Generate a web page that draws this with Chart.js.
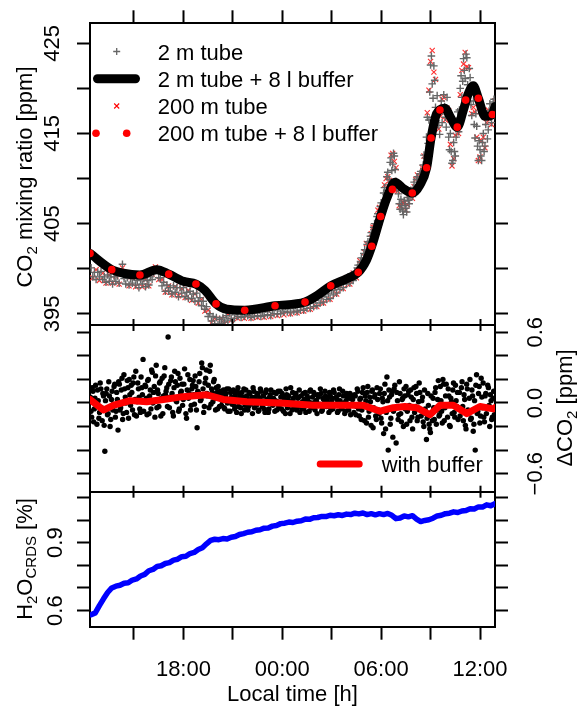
<!DOCTYPE html>
<html lang="en">
<head>
<meta charset="UTF-8">
<title>CO2 tube and buffer test</title>
<style>
  html, body { margin: 0; padding: 0; background: #fff; }
  #wrap { position: relative; width: 579px; height: 709px; }
  #wrap canvas { position: absolute; left: 0; top: 0; }
</style>
</head>
<body>
<div id="wrap">
  <canvas id="co2Chart" width="579" height="709"></canvas>
  <canvas id="diffChart" width="579" height="709"></canvas>
  <canvas id="h2oChart" width="579" height="709"></canvas>
</div>
<script src="https://cdn.jsdelivr.net/npm/chart.js"></script>
<script>
// ---- time axis (hours since midnight of day 1) ----
const xMin = 12.33, xMax = 36.91;
const xTickHours = [15, 18, 21, 24, 27, 30, 33, 36];
const xTickLabels = ['', '18:00', '', '00:00', '', '06:00', '', '12:00'];

// ---- top panel: CO2 mixing ratio [ppm] ----
const co2Ticks = [395, 400, 405, 410, 415, 420, 425];
const co2TickLabels = [395, 405, 415, 425];
const seriesNames = ['2 m tube', '2 m tube + 8 l buffer', '200 m tube', '200 m tube + 8 l buffer'];

// raw 2 m tube, one sample every 0.1 h
const tube2mStart = 12.4, tube2mStep = 0.1;
const tube2m = [
  400.1, 399.1, 399.6, 398.8, 399.6, 399.1, 399.7, 398.8, 399.1, 398.5,
  399.3, 398.6, 399.1, 398.3, 399.1, 398.6, 399.2, 398.4, 399.6, 400.5,
  398.9, 398.3, 399.0, 398.2, 398.9, 398.4, 399.1, 398.2, 398.7, 397.9,
  398.8, 398.3, 398.9, 398.0, 398.7, 398.2, 399.1, 398.8, 399.6, 399.9,
  400.0, 399.0, 399.0, 398.1, 398.5, 397.5, 398.2, 397.5, 397.9, 397.2,
  398.1, 397.4, 397.9, 396.9, 397.9, 397.3, 397.9, 396.9, 397.4, 396.7,
  397.5, 396.7, 397.2, 396.4, 397.3, 396.4, 396.8, 395.9, 396.4, 395.5,
  395.8, 394.7, 395.0, 394.2, 394.7, 393.9, 394.6, 393.8, 394.4, 393.9,
  394.6, 394.1, 394.8, 394.3, 395.1, 394.5, 395.2, 394.5, 395.2, 394.7,
  395.4, 394.6, 395.2, 394.7, 395.4, 394.8, 395.3, 394.6, 395.2, 394.7,
  395.4, 394.8, 395.4, 394.7, 395.3, 394.8, 395.5, 394.9, 395.5, 394.8,
  395.5, 395.0, 395.7, 395.0, 395.6, 395.0, 395.7, 395.2, 395.8, 395.2,
  395.8, 395.1, 395.9, 395.3, 395.9, 395.2, 396.1, 395.4, 396.0, 395.4,
  396.2, 395.6, 396.3, 395.6, 396.5, 395.8, 396.5, 395.9, 396.8, 396.2,
  396.9, 396.3, 397.2, 396.6, 397.3, 396.7, 397.6, 397.1, 397.9, 397.3,
  398.1, 397.7, 398.5, 397.9, 398.7, 398.3, 399.1, 398.4, 399.2, 398.7,
  399.7, 399.3, 400.4, 399.8, 401.2, 400.6, 402.1, 401.5, 403.0, 402.4,
  404.0, 403.3, 405.0, 404.2, 406.1, 405.3, 407.3, 406.6, 409.0, 408.2,
  410.7, 409.9, 412.3, 411.6, 412.5, 409.7, 409.5, 407.2, 407.7, 406.4,
  407.5, 406.7, 407.9, 407.2, 408.7, 408.0, 409.6, 408.6, 410.2, 409.3,
  410.8, 409.9, 412.6, 412.3, 416.8, 416.5, 422.6, 420.5, 422.5, 417.9,
  419.2, 415.9, 417.8, 416.2, 419.3, 416.8, 419.0, 414.6, 415.0, 411.7,
  414.0, 412.5, 416.4, 415.2, 420.0, 419.0, 423.3, 421.1, 423.4, 419.4,
  421.2, 417.0, 418.6, 414.5, 415.8, 412.0, 413.2, 412.0, 415.0, 413.6,
  417.0, 415.4, 418.3, 416.2, 418.5, 417.0
];
// extra 2 m tube samples in the variable morning part (between the ones above)
const tube2mLateStart = 28.45;
const tube2mLate = [
  399.2, 400.1, 399.7, 400.8, 400.2, 401.7, 401.2, 402.7, 402.0, 403.6,
  402.9, 404.6, 403.9, 405.8, 404.9, 406.9, 406.1, 408.4, 407.6, 410.2,
  409.3, 411.8, 410.9, 412.8, 411.0, 408.9, 408.3, 406.6, 407.0, 406.0,
  407.0, 406.3, 407.6, 407.9, 408.3, 409.0, 408.9, 409.9, 409.0, 410.5,
  409.6, 411.5, 410.8, 414.6, 413.9, 419.6, 423.6, 418.9, 420.9, 416.4,
  417.6, 414.9, 418.6, 417.5, 418.0, 415.7, 417.2, 413.2, 413.0, 412.0,
  413.0, 414.6, 417.4, 417.6, 421.4, 420.8, 422.0, 423.8, 420.4, 422.2,
  418.2, 419.8, 416.0, 417.2, 413.6, 414.2, 412.5, 414.0, 413.0, 416.0,
  414.4, 417.5, 416.8, 417.6, 418.8
];
// raw 200 m tube, one sample every 0.2 h
const tube200mStart = 12.5, tube200mStep = 0.2;
const tube200m = [
  399.0, 399.9, 398.7, 399.5, 398.4, 399.3, 398.4, 399.2, 398.3, 400.1,
  399.1, 398.1, 399.0, 398.0, 398.9, 398.0, 398.8, 398.1, 399.4, 400.2,
  398.8, 398.8, 397.4, 398.1, 397.1, 398.0, 397.0, 397.8, 396.8, 397.6,
  396.5, 397.2, 396.2, 396.6, 395.3, 395.4, 394.0, 394.5, 393.7, 394.5,
  393.9, 395.0, 394.3, 395.3, 394.5, 395.4, 394.5, 395.3, 394.5, 395.4,
  394.6, 395.5, 394.6, 395.5, 394.7, 395.7, 394.8, 395.8, 394.9, 395.9,
  395.0, 396.0, 395.1, 396.1, 395.3, 396.3, 395.5, 396.6, 395.8, 396.9,
  396.2, 397.4, 396.6, 397.9, 397.2, 398.5, 397.8, 399.0, 398.3, 399.5,
  399.0, 400.9, 400.4, 402.8, 402.2, 404.6, 404.0, 406.8, 406.4, 410.0,
  409.8, 412.8, 411.2, 407.0, 407.4, 406.5, 408.3, 407.8, 409.9, 409.2,
  411.2, 412.0, 419.8, 424.2, 421.0, 415.5, 418.8, 416.5, 417.5, 411.4,
  414.8, 415.0, 422.0, 424.0, 422.3, 417.2, 417.4, 412.0, 414.2, 413.4,
  417.6, 416.0, 418.6
];
const tube200mLateStart = 28.6;
const tube200mLate = [
  399.8, 400.5, 401.8, 402.4, 403.9, 404.6, 406.5, 406.7, 409.3, 410.2,
  412.6, 411.9, 408.6, 406.9, 407.3, 407.1, 408.6, 409.1, 410.4, 410.0,
  412.5, 417.3, 423.0, 421.8, 417.1, 416.9, 419.0, 417.8, 413.8, 412.2,
  415.6, 419.3, 422.7, 422.4, 420.0, 417.9, 414.6, 412.4, 414.6, 416.2,
  417.0, 418.0
];
// buffered 2 m tube (smooth)
const buf2mHours = [12.33, 13.65, 14.35, 15.36, 16.38, 17.11, 18.00, 18.76, 19.31, 19.98,
  20.63, 21.72, 23.56, 25.38, 26.09, 26.94, 27.91, 28.61, 29.12, 29.43,
  29.97, 30.34, 30.84, 31.34, 31.89, 32.36, 32.76, 33.03, 33.37, 33.87,
  34.18, 34.62, 34.99, 35.29, 35.59, 35.90, 36.31, 36.75, 36.91];
const buf2m = [401.7, 399.9, 399.5, 399.3, 399.9, 399.4, 398.6, 398.3, 397.6, 396.1,
  395.5, 395.4, 395.9, 396.3, 397.0, 398.1, 398.9, 399.6, 401.0, 402.5,
  405.8, 407.8, 409.6, 408.9, 408.4, 409.3, 411.2, 414.5, 417.2, 417.8,
  416.9, 415.7, 417.6, 419.4, 420.3, 418.9, 416.9, 417.1, 418.0];
// buffered 200 m tube (dots)
const buf200mHours = [12.33, 13.65, 15.36, 17.11, 18.76, 19.98, 21.72, 23.56, 25.38, 26.94,
  28.61, 29.43, 29.97, 30.68, 31.89, 32.76, 33.03, 33.57, 34.62, 35.13, 35.90, 36.75];
const buf200m = [401.7, 399.9, 399.3, 399.4, 398.3, 396.1, 395.4, 395.9, 396.3, 398.1,
  399.6, 402.5, 405.8, 408.8, 408.4, 411.2, 414.5, 417.6, 415.7, 418.7, 418.9, 417.1];

// ---- middle panel: delta CO2 [ppm] ----
const diffTicks = [-0.6, -0.4, -0.2, 0, 0.2, 0.4, 0.6];
const diffTickLabels = { '-0.6': '\u22120.6', '0': '0.0', '0.6': '0.6' };
const diffStep = 0.08;
const diffStartA = 12.35;
const diffRawA = [
  0.05, -0.12, 0.10, -0.05, 0.15, -0.18, 0.02, -0.08, 0.12, -0.15, 0.06, -0.41, 0.08, -0.10, 0.18, -0.20, 0.03, -0.06, 0.14, -0.12,
  0.09, -0.23, 0.16, -0.04, 0.21, -0.09, 0.12, 0.00, 0.19, -0.13, 0.07, 0.15, -0.06, 0.22, 0.03, -0.11, 0.17, 0.05, -0.08, 0.13,
  0.37, 0.01, 0.14, -0.10, 0.20, 0.06, -0.05, 0.26, 0.09, -0.12, 0.32, 0.11, -0.03, 0.18, 0.04, -0.09, 0.23, 0.07, 0.13, 0.56,
  -0.04, 0.19, 0.08, -0.11, 0.27, 0.02, 0.15, -0.07, 0.21, 0.10, -0.02, 0.16, 0.05, -0.13, 0.24, 0.08, -0.06, 0.12, 0.19, -0.01,
  0.14, -0.21, 0.09, 0.25, 0.03, 0.30, -0.08, 0.17, 0.28, 0.06, -0.04, 0.32, 0.12, 0.01, 0.20, -0.06, 0.09, 0.14, -0.03, 0.07,
  0.02, 0.11, -0.05, 0.08, 0.00, 0.12, -0.07, 0.05, 0.10, -0.02, 0.07, -0.08, 0.13, 0.03, -0.04, 0.09, 0.01, -0.06, 0.11, 0.04,
  -0.03, 0.08, 0.02, -0.09, 0.10, 0.05, -0.02, 0.07, -0.06, 0.12, 0.00, 0.06, -0.05, 0.09, 0.03, -0.08, 0.05, 0.11, -0.01, 0.04,
  -0.07, 0.08, 0.01, -0.03, 0.10, -0.05, 0.06, 0.02, -0.09, 0.07, 0.03, -0.02, 0.13, -0.06, 0.04, 0.00, 0.08, -0.04, 0.05, -0.08,
  0.06, 0.01, -0.05, 0.09, -0.02, 0.04, -0.07, 0.11, 0.00, -0.04, 0.07, 0.02, -0.09, 0.05, -0.01, 0.08, -0.06, 0.03, 0.10, -0.03,
  0.04, -0.08, 0.06, 0.01, -0.05, 0.09, -0.02, 0.03, -0.07, 0.12, 0.00, -0.04, 0.06, -0.09, 0.02, 0.05, -0.06, 0.08, -0.01, 0.03,
  -0.08, 0.06, -0.03, 0.10, -0.11, 0.04, -0.06, 0.13, -0.15, 0.02, 0.09, -0.12, 0.05, -0.19, 0.11, -0.04, 0.07, -0.14, 0.03, -0.09,
  0.12, -0.17, 0.01, 0.08, -0.22, 0.22, -0.40, 0.05, -0.13, 0.10, -0.07, 0.15, -0.34, 0.02, -0.10, 0.08, -0.16, 0.04, 0.12, -0.05,
  -0.18, 0.07, -0.02, 0.11, -0.12, 0.03, -0.08, 0.14, -0.15, 0.01, 0.09, -0.11, 0.05, -0.20, -0.05, -0.31, 0.08, -0.18, -0.25, -0.09,
  0.04, -0.14, 0.13, -0.06, 0.19, -0.10, 0.02, -0.17, 0.16, -0.04, 0.16, -0.12, 0.06, -0.20, 0.01, 0.11, -0.08, 0.15, -0.03, -0.14,
  0.09, -0.06, 0.18, -0.15, 0.03, -0.22, 0.12, -0.09, 0.20, -0.13, 0.06, -0.18, -0.40, 0.24, -0.07, 0.14, -0.11, 0.05, 0.17, -0.16,
  0.08, -0.04, 0.13, -0.20, 0.02, -0.12, 0.10, -0.06
];
const diffStartB = 12.39;
const diffRawB = [
  -0.07, 0.13, -0.16, 0.04, -0.02, 0.11, -0.13, 0.17, -0.04, 0.08, -0.19, 0.02, 0.12, -0.09, 0.06, -0.14, 0.10, -0.01, 0.16, -0.07,
  0.03, 0.18, -0.06, 0.11, -0.14, 0.24, 0.05, -0.08, 0.13, 0.20, -0.02, 0.09, 0.17, -0.10, 0.27, 0.01, 0.12, -0.05, 0.22, 0.07,
  -0.07, 0.15, 0.04, 0.19, -0.09, 0.11, 0.28, 0.00, 0.14, 0.23, -0.04, 0.08, 0.17, -0.11, 0.21, 0.06, 0.30, 0.10, -0.03, 0.16,
  0.05, 0.22, -0.08, 0.13, 0.18, 0.01, 0.25, -0.05, 0.09, 0.16, 0.03, 0.29, -0.09, 0.11, 0.04, 0.20, -0.02, 0.15, 0.07, 0.23,
  -0.06, 0.10, 0.18, 0.02, 0.34, 0.12, -0.03, 0.21, 0.08, 0.15, 0.27, -0.01, 0.09, 0.18, 0.04, 0.13, -0.05, 0.06, 0.10, -0.02,
  0.08, -0.04, 0.06, 0.12, -0.07, 0.03, 0.09, -0.01, 0.11, -0.05, 0.04, 0.10, -0.03, 0.07, -0.09, 0.05, 0.12, -0.02, 0.06, -0.06,
  0.09, -0.01, 0.05, 0.13, -0.04, 0.02, 0.08, -0.07, 0.04, 0.10, -0.03, 0.06, -0.08, 0.11, 0.01, -0.05, 0.07, 0.03, -0.02, 0.09,
  0.02, -0.06, 0.10, -0.01, 0.05, 0.08, -0.07, 0.03, 0.12, -0.04, 0.06, -0.09, 0.01, 0.09, -0.03, 0.07, -0.06, 0.04, 0.11, -0.01,
  -0.05, 0.08, 0.03, -0.08, 0.06, 0.01, 0.10, -0.04, 0.05, 0.09, -0.06, 0.02, 0.07, -0.02, 0.12, -0.07, 0.04, -0.01, 0.06, 0.01,
  -0.03, 0.09, -0.06, 0.04, 0.11, -0.02, 0.05, -0.08, 0.07, 0.02, -0.05, 0.10, 0.00, -0.07, 0.08, -0.03, 0.04, -0.10, 0.06, -0.02,
  0.07, -0.10, 0.12, -0.05, 0.03, -0.14, 0.09, -0.02, 0.06, -0.17, 0.14, -0.07, 0.01, 0.10, -0.21, 0.05, -0.11, 0.13, -0.06, 0.08,
  -0.13, 0.04, -0.26, 0.16, -0.08, 0.02, 0.11, -0.18, 0.07, -0.29, 0.12, -0.04, 0.09, -0.14, 0.18, -0.09, 0.03, -0.20, 0.06, 0.14,
  -0.07, 0.10, -0.15, 0.05, -0.22, 0.13, -0.03, 0.08, -0.12, 0.17, -0.06, 0.02, -0.16, 0.11, -0.09, -0.13, -0.02, -0.22, 0.06, -0.15,
  -0.04, 0.09, -0.18, 0.03, -0.11, 0.14, -0.07, 0.20, -0.15, 0.06, -0.02, 0.12, -0.19, 0.04, -0.09, 0.17, -0.12, 0.02, 0.09, -0.05,
  -0.11, 0.13, -0.03, 0.07, -0.19, 0.16, -0.06, 0.04, -0.14, 0.11, -0.24, 0.02, 0.15, -0.09, 0.08, -0.17, 0.21, -0.04, -0.12, 0.06,
  -0.09, 0.15, -0.02, 0.07, -0.14, 0.04, -0.10
];
const diffBufHours = [12.33, 13.14, 13.74, 14.76, 15.77, 16.78, 17.79, 19.41, 20.42, 21.84, 23.86, 25.88,
  27.91, 28.92, 29.94, 30.74, 31.45, 32.16, 32.96, 33.57, 34.38, 35.19, 36.00, 36.81, 36.91];
const diffBuf = [0.03, -0.06, -0.02, 0.02, 0.01, 0.03, 0.05, 0.07, 0.03, 0.01, 0.00, -0.02,
  -0.02, -0.02, -0.07, -0.04, -0.03, -0.04, -0.10, -0.02, -0.02, -0.09, -0.03, -0.05, -0.04];

// ---- bottom panel: H2O CRDS [%], one sample every 0.25 h ----
const h2oTicks = [0.6, 0.7, 0.8, 0.9, 1.0, 1.1];
const h2oTickLabels = [0.6, 0.9];
const h2oStart = 12.4, h2oStep = 0.25;
const h2o = [
  0.582, 0.590, 0.622, 0.652, 0.680, 0.700, 0.708, 0.712, 0.721, 0.723,
  0.735, 0.740, 0.753, 0.760, 0.776, 0.782, 0.795, 0.798, 0.808, 0.812,
  0.823, 0.827, 0.838, 0.840, 0.852, 0.857, 0.870, 0.878, 0.895, 0.910,
  0.915, 0.913, 0.918, 0.916, 0.924, 0.927, 0.936, 0.940, 0.946, 0.948,
  0.955, 0.957, 0.964, 0.965, 0.973, 0.976, 0.984, 0.986, 0.991, 0.989,
  0.995, 0.997, 1.004, 1.003, 1.010, 1.011, 1.016, 1.015, 1.021, 1.019,
  1.023, 1.020, 1.026, 1.024, 1.030, 1.027, 1.031, 1.024, 1.028, 1.023,
  1.028, 1.024, 1.029, 1.021, 1.006, 1.009, 1.018, 1.014, 1.019, 1.004,
  0.993, 0.998, 1.001, 1.008, 1.018, 1.021, 1.028, 1.030, 1.036, 1.033,
  1.040, 1.042, 1.050, 1.049, 1.058, 1.057, 1.067, 1.063, 1.072
];

// ---------------------------------------------------------------
const FONT = '"Liberation Sans", Arial, Helvetica, sans-serif';
const FS = 22;
const W = 579, H = 709, PLOT_L = 90, PLOT_R = 495, AXIS_W = 80;

const pairs = (xs, ys) => ys.map((y, i) => ({ x: xs[i], y: y }));
const regular = (start, step, ys) => ys.map((y, i) => ({ x: start + step * i, y: y }));

const tickFont = { family: FONT, size: FS };
const gridBase = { drawOnChartArea: false, drawTicks: true, tickWidth: 2, tickColor: '#000', color: '#000' };
const borderBase = { display: true, color: '#000', width: 2 };

function xScale(pos, tickLen, height, withLabels) {
  return {
    type: 'linear', position: pos, min: xMin, max: xMax, bounds: 'data',
    afterBuildTicks: s => { s.ticks = xTickHours.map(v => ({ value: v })); },
    afterFit: s => { s.height = height; },
    grid: Object.assign({}, gridBase, { tickLength: tickLen }),
    border: borderBase,
    ticks: withLabels
      ? { autoSkip: false, minRotation: 0, maxRotation: 0, padding: 17, color: '#000', font: tickFont,
          callback: (v, i) => xTickLabels[i] }
      : { display: false }
  };
}

function yScale(pos, min, max, values, labelFn) {
  return {
    type: 'linear', position: pos, min: min, max: max, bounds: 'data',
    afterBuildTicks: s => { s.ticks = values.map(v => ({ value: v })); },
    afterFit: s => { s.width = AXIS_W; },
    grid: Object.assign({}, gridBase, { tickLength: 13 }),
    border: borderBase,
    ticks: labelFn
      ? { autoSkip: false, minRotation: 90, maxRotation: 90, crossAlign: 'center', padding: 6,
          color: '#000', font: tickFont, callback: labelFn }
      : { display: false }
  };
}

function panelPadding(top, bottom, bottomAxisH) {
  return { left: PLOT_L - AXIS_W, right: W - PLOT_R - AXIS_W, top: top - 10, bottom: H - bottom - bottomAxisH };
}

// text drawn in pieces so that subscripts can be smaller and lowered
function richText(ctx, x, y, parts, angle) {
  ctx.save();
  ctx.translate(x, y);
  ctx.rotate(angle);
  ctx.fillStyle = '#000';
  ctx.textBaseline = 'alphabetic';
  ctx.textAlign = 'left';
  let total = 0;
  parts.forEach(p => { ctx.font = p[1] + 'px ' + FONT; total += ctx.measureText(p[0]).width; });
  let cx = -total / 2;
  parts.forEach(p => {
    ctx.font = p[1] + 'px ' + FONT;
    ctx.fillText(p[0], cx, p[2]);
    cx += ctx.measureText(p[0]).width;
  });
  ctx.restore();
}

const baseOptions = {
  responsive: false,
  devicePixelRatio: 1,
  animation: false,
  events: [],
  plugins: { legend: { display: false }, tooltip: { enabled: false } }
};

// ---- top chart ----
const co2Decor = {
  id: 'co2Decor',
  afterDraw(chart) {
    const ctx = chart.ctx;
    richText(ctx, 32, 177, [['CO', FS, 0], ['2', 15, 5], [' mixing ratio [ppm]', FS, 0]], -Math.PI / 2);
    // legend
    const rows = [59.5, 86.8, 114, 141.3];
    ctx.save();
    ctx.font = FS + 'px ' + FONT;
    ctx.fillStyle = '#000';
    seriesNames.forEach((t, i) => ctx.fillText(t, 157.7, rows[i]));
    const cy = rows.map(r => r - 8);
    ctx.lineWidth = 1.3;
    ctx.strokeStyle = '#666';
    ctx.beginPath();
    ctx.moveTo(113.2, cy[0]); ctx.lineTo(120.2, cy[0]);
    ctx.moveTo(116.7, cy[0] - 3.5); ctx.lineTo(116.7, cy[0] + 3.5);
    ctx.stroke();
    ctx.strokeStyle = '#000';
    ctx.lineWidth = 9;
    ctx.lineCap = 'round';
    ctx.beginPath(); ctx.moveTo(97.5, cy[1]); ctx.lineTo(135.5, cy[1]); ctx.stroke();
    ctx.lineCap = 'butt';
    ctx.strokeStyle = 'red';
    ctx.lineWidth = 1.1;
    ctx.beginPath();
    ctx.moveTo(114.2, cy[2] - 2.5); ctx.lineTo(119.2, cy[2] + 2.5);
    ctx.moveTo(114.2, cy[2] + 2.5); ctx.lineTo(119.2, cy[2] - 2.5);
    ctx.stroke();
    ctx.fillStyle = 'red';
    [96, 126.7].forEach(x => { ctx.beginPath(); ctx.arc(x, cy[3], 3.8, 0, Math.PI * 2); ctx.fill(); });
    ctx.restore();
  }
};

new Chart(document.getElementById('co2Chart'), {
  type: 'scatter',
  data: {
    datasets: [
      { label: seriesNames[3], data: pairs(buf200mHours, buf200m), order: 0, showLine: false,
        pointRadius: 3.8, pointBackgroundColor: 'red', pointBorderWidth: 0 },
      { label: seriesNames[1], data: pairs(buf2mHours, buf2m), order: 1, showLine: true,
        borderColor: '#000', borderWidth: 9, cubicInterpolationMode: 'monotone',
        borderCapStyle: 'round', borderJoinStyle: 'round', pointRadius: 0 },
      { label: seriesNames[0],
        data: regular(tube2mStart, tube2mStep, tube2m).concat(regular(tube2mLateStart, tube2mStep, tube2mLate)),
        order: 2, showLine: false,
        pointStyle: 'cross', pointRadius: 3.8, pointBorderColor: '#666', pointBorderWidth: 1.4 },
      { label: seriesNames[2],
        data: regular(tube200mStart, tube200mStep, tube200m).concat(regular(tube200mLateStart, tube200mStep, tube200mLate)),
        order: 3, showLine: false,
        pointStyle: 'crossRot', pointRadius: 3.6, pointBorderColor: '#ff3030', pointBorderWidth: 1.1 }
    ]
  },
  options: Object.assign({}, baseOptions, {
    layout: { padding: panelPadding(23.3, 325, 10) },
    scales: {
      x: xScale('bottom', 6, 10, false),
      xTop: xScale('top', 13, 10, false),
      y: yScale('left', 393.76, 427.22, co2Ticks, v => co2TickLabels.includes(v) ? String(v) : ''),
      yRight: yScale('right', 393.76, 427.22, co2Ticks, null)
    }
  }),
  plugins: [co2Decor]
});

// ---- middle chart ----
const diffDecor = {
  id: 'diffDecor',
  afterDraw(chart) {
    const ctx = chart.ctx;
    richText(ctx, 572, 408, [['\u0394CO', FS, 0], ['2', 15, 5], [' [ppm]', FS, 0]], -Math.PI / 2);
    ctx.save();
    ctx.strokeStyle = 'red';
    ctx.lineWidth = 7;
    ctx.lineCap = 'round';
    ctx.beginPath(); ctx.moveTo(320.2, 464); ctx.lineTo(359.2, 464); ctx.stroke();
    ctx.font = FS + 'px ' + FONT;
    ctx.fillStyle = '#000';
    ctx.fillText(chart.data.datasets[0].label, 381.7, 471.5);
    ctx.restore();
  }
};

new Chart(document.getElementById('diffChart'), {
  type: 'scatter',
  data: {
    datasets: [
      { label: 'with buffer', data: pairs(diffBufHours, diffBuf), order: 0, showLine: true,
        borderColor: 'red', borderWidth: 7, borderJoinStyle: 'round', borderCapStyle: 'round', pointRadius: 0 },
      { label: 'without buffer',
        data: regular(diffStartA, diffStep, diffRawA).concat(regular(diffStartB, diffStep, diffRawB)),
        order: 1, showLine: false, pointRadius: 2.7, pointBackgroundColor: '#000', pointBorderWidth: 0 }
    ]
  },
  options: Object.assign({}, baseOptions, {
    layout: { padding: panelPadding(325, 491.7, 10) },
    scales: {
      x: xScale('bottom', 6, 10, false),
      xTop: xScale('top', 6, 10, false),
      y: yScale('left', -0.753, 0.662, diffTicks, null),
      yRight: yScale('right', -0.753, 0.662, diffTicks, v => diffTickLabels[String(v)] || '')
    }
  }),
  plugins: [diffDecor]
});

// ---- bottom chart ----
const h2oDecor = {
  id: 'h2oDecor',
  afterDraw(chart) {
    const ctx = chart.ctx;
    richText(ctx, 32, 559, [['H', FS, 0], ['2', 15, 5], ['O', FS, 0], ['CRDS', 15, 4], [' [%]', FS, 0]], -Math.PI / 2);
    richText(ctx, (PLOT_L + PLOT_R) / 2, 701, [['Local time [h]', FS, 0]], 0);
  }
};

new Chart(document.getElementById('h2oChart'), {
  type: 'scatter',
  data: {
    datasets: [
      { label: 'H2O CRDS', data: regular(h2oStart, h2oStep, h2o), showLine: true,
        borderColor: '#0000ff', borderWidth: 5.5, borderJoinStyle: 'round', borderCapStyle: 'round', pointRadius: 0 }
    ]
  },
  options: Object.assign({}, baseOptions, {
    layout: { padding: panelPadding(491.7, 626.7, 70) },
    scales: {
      x: xScale('bottom', 13, 70, true),
      xTop: xScale('top', 6, 10, false),
      y: yScale('left', 0.529, 1.125, h2oTicks, v => h2oTickLabels.includes(v) ? String(v) : ''),
      yRight: yScale('right', 0.529, 1.125, h2oTicks, null)
    }
  }),
  plugins: [h2oDecor]
});
</script>
</body>
</html>
